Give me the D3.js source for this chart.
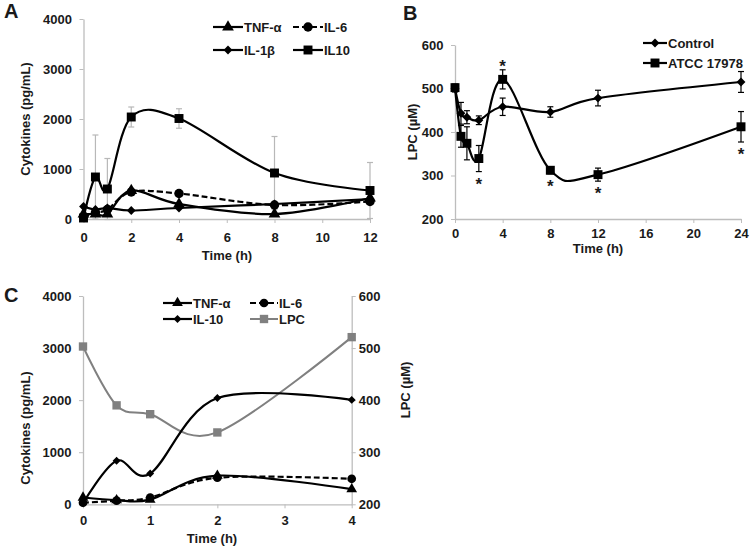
<!DOCTYPE html>
<html>
<head>
<meta charset="utf-8">
<script src="https://cdn.jsdelivr.net/npm/d3@7"></script>
<style>
body { margin: 0; background: #fff; }
text { font-family: "Liberation Sans", Arial, sans-serif; font-weight: bold; fill: #1a1a1a; }
</style>
</head>
<body>
<svg width="750" height="549"></svg>
<script>
// ---- panel A: cytokines over 12 h
var timeA = [0, 0.5, 1, 2, 4, 8, 12]
var tnfA = [100, 100, 100, 570, 300, 100, 420]
var il6A = [40, 130, 190, 540, 510, 280, 350]
var il1bA = [250, 190, 220, 170, 220, 300, 400]
var il10A = [20, 840, 600, 2040, 2010, 920, 570]
var il10ErrA = [20, 840, 610, 200, 195, 730, 560]
var xTicksA = [0, 2, 4, 6, 8, 10, 12]
var yTicksA = [0, 1000, 2000, 3000, 4000]

// ---- panel B: LPC over 24 h
var timeB = [0, 0.5, 1, 2, 4, 8, 12, 24]
var controlB = [500, 443, 434, 427, 458, 446, 478, 515]
var controlErrB = [8, 25, 15, 10, 20, 12, 18, 24]
var atccB = [502, 390, 374, 339, 521, 312, 302, 412]
var atccErrB = [8, 25, 38, 30, 22, 8, 15, 35]
var starB = [0, 0, 0, -1, 1, -1, -1, -1]   // 1 = star above, -1 = star below
var xTicksB = [0, 4, 8, 12, 16, 20, 24]
var yTicksB = [200, 300, 400, 500, 600]

// ---- panel C: first 4 h, cytokines + LPC
var timeC = [0, 0.5, 1, 2, 4]
var tnfC = [130, 80, 90, 550, 290]
var il6C = [30, 70, 130, 510, 490]
var il10C = [20, 835, 590, 2040, 2005]
var lpcC = [503, 390, 373, 338, 521]
var xTicksC = [0, 1, 2, 3, 4]
var yTicksC = [0, 1000, 2000, 3000, 4000]
var yTicksC2 = [200, 300, 400, 500, 600]

var svg = d3.select("svg")
var axisGrey = "#bdbdbd"
var curve = d3.curveCardinal.tension(0)
var fmt = d3.format("d")

function styleAxis(g) {
    g.select(".domain").attr("stroke", axisGrey).attr("stroke-width", 1.3)
    g.selectAll(".tick line").attr("stroke", axisGrey)
    g.selectAll(".tick text")
        .attr("font-size", 13)
        .attr("font-family", "Liberation Sans, Arial, sans-serif")
        .attr("font-weight", "bold")
        .attr("fill", "#1a1a1a")
}

function axes(x, y, xTicks, yTicks, xPad) {
    var y0 = y.range()[0]
    svg.append("g")
        .attr("transform", `translate(0, ${y0})`)
        .call(d3.axisBottom(x).tickValues(xTicks).tickFormat(fmt)
            .tickSize(4).tickSizeOuter(0).tickPadding(xPad))
        .call(styleAxis)
    svg.append("g")
        .attr("transform", `translate(${x.range()[0]}, 0)`)
        .call(d3.axisLeft(y).tickValues(yTicks).tickFormat(fmt)
            .tickSize(4).tickSizeOuter(0).tickPadding(7.5))
        .call(styleAxis)
}

function series(x, y, xs, ys, opt) {
    var pts = xs.map((t, i) => [x(t), y(ys[i])])
    svg.append("path")
        .datum(pts)
        .attr("d", d3.line().curve(curve))
        .attr("fill", "none")
        .attr("stroke", opt.color || "#000")
        .attr("stroke-width", opt.width || 2.2)
        .attr("stroke-dasharray", opt.dash || null)
    svg.selectAll(null)
        .data(pts)
        .enter()
        .append("path")
        .attr("transform", d => `translate(${d[0]}, ${d[1]})`)
        .attr("d", d3.symbol().type(opt.symbol).size(opt.size || 64))
        .attr("fill", opt.color || "#000")
}

function errorBars(x, y, xs, ys, errs, color, cap) {
    xs.forEach((t, i) => {
        var cx = x(t), top = y(ys[i] + errs[i]), bot = y(ys[i] - errs[i])
        var g = svg.append("g").attr("stroke", color).attr("stroke-width", 1.2)
        g.append("line").attr("x1", cx).attr("x2", cx).attr("y1", top).attr("y2", bot)
        g.append("line").attr("x1", cx - cap).attr("x2", cx + cap).attr("y1", top).attr("y2", top)
        g.append("line").attr("x1", cx - cap).attr("x2", cx + cap).attr("y1", bot).attr("y2", bot)
    })
}

function legendItem(x0, y0, len, label, opt) {
    svg.append("line")
        .attr("x1", x0).attr("x2", x0 + len)
        .attr("y1", y0).attr("y2", y0)
        .attr("stroke", opt.color || "#000")
        .attr("stroke-width", opt.width || 2.2)
        .attr("stroke-dasharray", opt.dash || null)
    svg.append("path")
        .attr("transform", `translate(${x0 + len / 2}, ${y0})`)
        .attr("d", d3.symbol().type(opt.symbol).size(opt.size || 64))
        .attr("fill", opt.color || "#000")
    svg.append("text")
        .attr("x", x0 + len + 1)
        .attr("y", y0)
        .attr("dy", "0.35em")
        .attr("font-size", 13)
        .text(label)
}

function title(x, y, label, rotate) {
    svg.append("text")
        .attr("transform", rotate ? `translate(${x}, ${y}) rotate(-90)` : `translate(${x}, ${y})`)
        .attr("text-anchor", "middle")
        .attr("dy", "0.35em")
        .attr("font-size", 13)
        .text(label)
}

function panelLetter(x, y, letter) {
    svg.append("text").attr("x", x).attr("y", y).attr("font-size", 20).text(letter)
}

var tri = { symbol: d3.symbolTriangle, size: 60 }
var circ = { symbol: d3.symbolCircle, size: 70, dash: "6,3" }
var diam = { symbol: d3.symbolDiamond2, size: 50 }
var sq = { symbol: d3.symbolSquare, size: 80 }

// ================= A
var xA = d3.scaleLinear().domain([0, 12]).range([83.5, 370])
var yA = d3.scaleLinear().domain([0, 4000]).range([219, 19])
axes(xA, yA, xTicksA, yTicksA, 9.5)
errorBars(xA, yA, timeA, il10A, il10ErrA, "#b8b8b8", 3)
series(xA, yA, timeA, il1bA, diam)
series(xA, yA, timeA, tnfA, tri)
series(xA, yA, timeA, il6A, circ)
series(xA, yA, timeA, il10A, sq)
legendItem(213, 27, 30, "TNF-\u03b1", tri)
legendItem(293, 27, 30, "IL-6", circ)
legendItem(213, 50, 30, "IL-1\u03b2", diam)
legendItem(293, 50, 30, "IL10", sq)
title(227, 255, "Time (h)")
title(25, 119, "Cytokines (pg/mL)", true)
panelLetter(4, 18, "A")

// ================= B
var xB = d3.scaleLinear().domain([0, 24]).range([455, 741])
var yB = d3.scaleLinear().domain([200, 600]).range([219, 45])
axes(xB, yB, xTicksB, yTicksB, 5.5)
errorBars(xB, yB, timeB, controlB, controlErrB, "#000", 3)
errorBars(xB, yB, timeB, atccB, atccErrB, "#000", 3)
series(xB, yB, timeB, controlB, { symbol: d3.symbolDiamond2, size: 50 })
series(xB, yB, timeB, atccB, { symbol: d3.symbolSquare, size: 80 })
svg.selectAll(null)
    .data(timeB.map((t, i) => i).filter(i => starB[i] !== 0))
    .enter()
    .append("text")
    .attr("x", i => xB(timeB[i]))
    .attr("y", i => starB[i] > 0
        ? yB(atccB[i] + atccErrB[i]) - 7 + 9
        : yB(atccB[i] - atccErrB[i]) + 9 + 9)
    .attr("text-anchor", "middle")
    .attr("font-size", 17)
    .attr("font-weight", "normal")
    .text("*")
legendItem(643, 43, 24, "Control", { symbol: d3.symbolDiamond2, size: 50 })
legendItem(643, 63, 24, "ATCC 17978", { symbol: d3.symbolSquare, size: 80 })
title(598, 248, "Time (h)")
title(412, 132, "LPC (\u00b5M)", true)
panelLetter(403, 20, "B")

// ================= C
var xC = d3.scaleLinear().domain([0, 4]).range([83, 351.7])
var yC = d3.scaleLinear().domain([0, 4000]).range([504.3, 296])
var yC2 = d3.scaleLinear().domain([200, 600]).range([504.3, 296])
axes(xC, yC, xTicksC, yTicksC, 7)
svg.append("g")
    .attr("transform", "translate(351.7, 0)")
    .call(d3.axisRight(yC2).tickValues(yTicksC2).tickFormat(fmt)
        .tickSize(4).tickSizeOuter(0).tickPadding(3))
    .call(styleAxis)
series(xC, yC2, timeC, lpcC, { symbol: d3.symbolSquare, size: 70, color: "#808080", width: 2 })
series(xC, yC, timeC, il10C, { symbol: d3.symbolDiamond2, size: 40 })
series(xC, yC, timeC, tnfC, { symbol: d3.symbolTriangle, size: 50 })
series(xC, yC, timeC, il6C, { symbol: d3.symbolCircle, size: 60, dash: "6,3" })
legendItem(163, 303, 29, "TNF-\u03b1", { symbol: d3.symbolTriangle, size: 50 })
legendItem(250, 303, 28, "IL-6", { symbol: d3.symbolCircle, size: 60, dash: "6,3" })
legendItem(163, 319, 29, "IL-10", { symbol: d3.symbolDiamond2, size: 40 })
legendItem(250, 319, 28, "LPC", { symbol: d3.symbolSquare, size: 70, color: "#808080", width: 2 })
title(212, 538, "Time (h)")
title(25, 428, "Cytokines  (pg/mL)", true)
title(405, 390, "LPC (\u00b5M)", true)
panelLetter(4, 302, "C")
</script>
</body>
</html>
